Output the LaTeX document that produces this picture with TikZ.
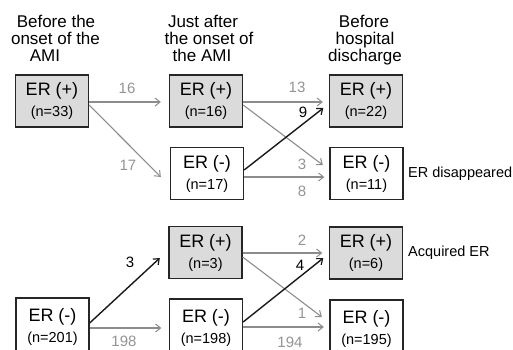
\documentclass[tikz,border=0pt]{standalone}
\usepackage{fontspec}
\setmainfont{Liberation Sans}
\usetikzlibrary{arrows.meta,calc}
\definecolor{boxgray}{gray}{0.86}
\definecolor{arrgray}{gray}{0.55}
\definecolor{labgray}{gray}{0.58}
\newcommand{\nfnt}{\fontsize{14.5}{21}\selectfont}
\tikzset{
  erbox/.style={draw=black!85, line width=1.3pt, minimum width=73pt, minimum height=52pt,
    inner sep=0pt, align=center, font=\fontsize{18}{21}\selectfont},
  posbox/.style={erbox, fill=boxgray},
  negbox/.style={erbox, fill=white},
  tallbox/.style={negbox, minimum height=58pt},
  head/.style={anchor=base, inner sep=0pt, font=\fontsize{17}{17}\selectfont},
  side/.style={anchor=west, inner sep=0pt, font=\fontsize{14.5}{17}\selectfont},
  numlab/.style={inner sep=0pt, font=\fontsize{15}{15}\selectfont},
  graylab/.style={numlab, text=labgray},
  blacklab/.style={numlab, text=black},
  grayarr/.style={draw=arrgray, line width=1.1pt, -{Straight Barb[length=5pt,width=8pt,line width=1pt]}},
  blackarr/.style={draw=black!90, line width=1.4pt, -{Straight Barb[length=5pt,width=8pt,line width=1.2pt]}}
}
\begin{document}
\begin{tikzpicture}[x=1pt,y=-1pt]
\useasboundingbox (0,0) rectangle (513,349);
% headers
\node[head] (h1a) at (56,27) {Before the};
\node[head] (h1b) at (55.5,44) {onset of the};
\node[head] (h1c) at (45,61) {AMI};
\node[head] (h2a) at (203,27) {Just after};
\node[head] (h2b) at (209,44) {the onset of};
\node[head] (h2c) at (202,61) {the AMI};
\node[head] (h3a) at (364,27) {Before};
\node[head] (h3b) at (365,44) {hospital};
\node[head] (h3c) at (365,61) {discharge};
% boxes
\node[posbox] (A1) at (52,101) {ER (+)\\\nfnt (n=33)};
\node[posbox] (B1) at (206,101) {ER (+)\\\nfnt (n=16)};
\node[negbox] (B2) at (207,173.5) {ER (-)\\\nfnt (n=17)};
\node[posbox] (C1) at (366,101) {ER (+)\\\nfnt (n=22)};
\node[negbox] (C2) at (366.5,173.5) {ER (-)\\\nfnt (n=11)};
\node[posbox] (B3) at (205.5,252.5) {ER (+)\\\nfnt (n=3)};
\node[posbox] (C3) at (366,253) {ER (+)\\\nfnt (n=6)};
\node[tallbox] (A4) at (52.5,327) {ER (-)\\\nfnt (n=201)};
\node[tallbox] (B4) at (206,328) {ER (-)\\\nfnt (n=198)};
\node[tallbox] (C4) at (366.5,329) {ER (-)\\\nfnt (n=195)};
% side labels
\node[side] (s1) at (408,173.5) {ER disappeared};
\node[side] (s2) at (408,253) {Acquired ER};
% arrows
\draw[grayarr] ($(A1.east)+(0,1)$) -- ($(B1.west)+(-8,1)$);
\draw[grayarr] ($(A1.east)+(0,4)$) -- ($(B2.west)+(-9,3.5)$);
\draw[grayarr] ($(B1.east)+(0,1)$) -- ($(C1.west)+(-6,1)$);
\draw[grayarr] ($(B1.east)+(0,4)$) -- ($(C2.west)+(-6.5,-8.5)$);
\draw[grayarr] ($(B2.east)+(0,3.5)$) -- ($(C2.west)+(-5,3.5)$);
\draw[blackarr] ($(B2.east)+(0,-3.5)$) -- ($(C1.west)+(-5.5,7)$);
\draw[blackarr] ($(A4.east)+(0,-4)$) -- ($(B3.west)+(-8.5,5.5)$);
\draw[grayarr] ($(A4.east)+(0,1)$) -- ($(B4.west)+(-7.5,0)$);
\draw[grayarr] ($(B3.east)+(0,0.5)$) -- ($(C3.west)+(-6.5,0)$);
\draw[grayarr] ($(B3.east)+(0,4.5)$) -- ($(C4.west)+(-7.5,-12)$);
\draw[grayarr] ($(B4.east)+(0,-1)$) -- ($(C4.west)+(-5.5,-2)$);
\draw[blackarr] ($(B4.east)+(0,-6)$) -- ($(C3.west)+(-5.5,5)$);
% number labels
\node[graylab] (n16) at (127,88) {16};
\node[graylab] (n17) at (128,165) {17};
\node[graylab] (n13) at (297,87) {13};
\node[graylab] (n3g) at (302,164) {3};
\node[blacklab] (n9) at (303,112) {9};
\node[graylab] (n8) at (302,191) {8};
\node[blacklab] (n3b) at (130,262) {3};
\node[graylab] (n198) at (124,341) {198};
\node[graylab] (n2) at (302,240) {2};
\node[graylab] (n1) at (302,313) {1};
\node[blacklab] (n4) at (300,265) {4};
\node[graylab] (n194) at (290,342) {194};
\end{tikzpicture}
\end{document}
